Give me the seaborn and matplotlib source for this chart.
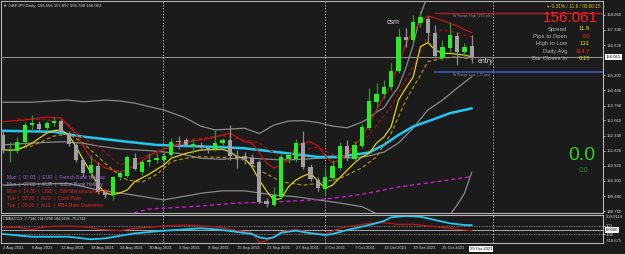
import numpy as np
import pandas as pd
import matplotlib
matplotlib.use("Agg")
import matplotlib.pyplot as plt
import seaborn as sns
from matplotlib.transforms import blended_transform_factory

# ---------------- data ----------------
dates = ["2 Aug", "3 Aug", "4 Aug", "5 Aug", "6 Aug", "9 Aug", "10 Aug", "11 Aug", "12 Aug", "13 Aug",
         "16 Aug", "17 Aug", "18 Aug", "19 Aug", "20 Aug", "23 Aug", "24 Aug", "25 Aug", "26 Aug", "27 Aug",
         "30 Aug", "31 Aug", "1 Sep", "2 Sep", "3 Sep", "6 Sep", "7 Sep", "8 Sep", "9 Sep", "10 Sep",
         "13 Sep", "14 Sep", "15 Sep", "16 Sep", "17 Sep", "20 Sep", "21 Sep", "22 Sep", "23 Sep", "24 Sep",
         "27 Sep", "28 Sep", "29 Sep", "30 Sep", "1 Oct", "4 Oct", "5 Oct", "6 Oct", "7 Oct", "8 Oct",
         "11 Oct", "12 Oct", "13 Oct", "14 Oct", "15 Oct", "18 Oct", "19 Oct", "20 Oct", "21 Oct", "22 Oct",
         "25 Oct", "26 Oct", "27 Oct", "28 Oct", "29 Oct"]
opens = [152.37, 151.60, 151.63, 152.02, 152.86, 152.90, 152.68, 152.94, 153.05, 152.42,
         151.90, 151.19, 150.55, 150.90, 149.69, 149.53, 150.37, 150.45, 151.30, 150.60,
         151.08, 151.19, 151.19, 151.42, 152.08, 152.13, 151.87, 151.90, 151.77, 151.70,
         151.98, 152.13, 151.36, 151.39, 151.28, 151.07, 149.26, 149.06, 149.45, 151.25,
         151.22, 152.00, 150.87, 150.24, 149.82, 150.33, 150.80, 151.85, 151.22, 151.87,
         152.69, 153.95, 154.29, 154.62, 155.40, 157.02, 156.86, 157.65, 157.84, 157.18,
         156.00, 156.47, 157.05, 156.31, 156.556]
highs = [152.55, 152.05, 152.29, 153.00, 153.32, 153.05, 153.05, 153.24, 153.12, 152.55,
         152.00, 151.30, 151.42, 151.10, 149.75, 150.45, 150.65, 151.40, 151.52, 151.20,
         151.50, 151.53, 151.55, 152.21, 152.30, 152.25, 152.18, 152.05, 151.90, 152.61,
         152.25, 152.84, 151.66, 151.55, 151.45, 151.19, 149.40, 149.93, 151.53, 151.50,
         152.17, 152.57, 151.00, 150.40, 150.80, 151.19, 152.05, 152.13, 152.08, 152.90,
         154.58, 154.81, 154.97, 155.76, 157.42, 157.42, 158.05, 158.24, 158.00, 157.57,
         156.86, 157.73, 157.26, 156.74, 157.097]
lows = [151.50, 151.10, 151.50, 151.90, 152.55, 152.55, 152.55, 152.80, 152.45, 151.85,
        151.10, 150.45, 150.35, 149.60, 149.39, 149.30, 150.25, 150.40, 150.70, 150.48,
        150.90, 151.05, 151.05, 151.30, 151.70, 151.80, 151.52, 151.65, 151.50, 151.60,
        151.85, 151.19, 150.80, 151.00, 150.85, 149.15, 148.98, 149.01, 149.40, 151.05,
        151.10, 150.75, 150.20, 149.72, 149.53, 150.20, 150.71, 151.15, 151.10, 151.75,
        152.60, 153.71, 154.10, 154.50, 155.30, 156.55, 156.70, 157.50, 156.71, 156.00,
        155.90, 156.30, 155.68, 156.07, 155.789]
closes = [151.66, 151.68, 152.02, 152.84, 152.92, 152.66, 152.95, 153.03, 152.53, 151.94,
          151.19, 150.56, 150.95, 149.69, 149.53, 150.38, 150.57, 151.31, 150.76, 151.11,
          151.19, 151.28, 151.38, 152.05, 152.02, 151.90, 151.95, 151.82, 151.66, 151.98,
          152.13, 151.38, 151.30, 151.22, 151.00, 149.22, 149.10, 149.53, 151.35, 151.40,
          152.00, 150.84, 150.29, 149.85, 150.40, 150.90, 151.85, 151.27, 151.90, 152.77,
          153.98, 154.31, 154.62, 155.40, 157.02, 156.86, 157.71, 157.96, 157.18, 156.10,
          156.52, 157.10, 156.31, 156.52, 156.061]

# indicator lines (bar index, price)
cyan_idx = [0, 7, 11, 17, 21, 25, 30, 33, 35, 39, 43, 46, 50, 52, 54, 56, 59, 61, 64]
cyan_val = [152.57, 152.52, 152.29, 152.05, 151.90, 151.85, 151.79, 151.74, 151.66, 151.50,
            151.33, 151.34, 151.54, 151.90, 152.37, 152.77, 153.14, 153.40, 153.63]

yel_idx = [0, 2, 4, 6, 7, 8, 9, 10, 11, 12, 13, 14, 15, 16, 17, 18, 20, 21, 22, 23, 25, 27, 30,
           31, 32, 33, 34, 35, 36, 37, 38, 39, 40, 41, 42, 43, 44, 45, 47, 48, 49, 50, 51, 52, 53,
           54, 55, 56, 57, 58, 59, 60, 61, 63, 64]
yel_val = [151.66, 151.66, 151.98, 152.46, 152.58, 152.61, 152.37, 151.82, 151.19, 150.62, 150.00,
           149.63, 149.53, 149.63, 149.77, 150.16, 150.52, 150.74, 150.95, 151.27, 151.50, 151.66,
           151.69, 151.58, 151.34, 151.27, 150.87, 150.24, 149.72, 149.29, 149.37, 149.92, 150.24,
           150.43, 150.56, 150.19, 149.85, 150.00, 150.71, 151.05, 151.33, 151.50, 151.99, 152.27,
           152.76, 154.02, 154.59, 155.11, 156.55, 156.74, 156.39, 156.23, 156.23, 156.15, 156.07]

yeld_idx = [2, 4, 7, 9, 11, 13, 15, 17, 19, 21, 23, 25, 27, 30, 33, 35, 38, 41, 43, 46, 49, 51,
            53, 55, 57, 58, 60, 62, 64]
yeld_val = [151.74, 151.85, 152.32, 152.42, 151.98, 151.34, 150.71, 150.24, 150.14, 150.50, 151.11,
            151.27, 151.34, 151.31, 151.19, 150.71, 150.16, 150.00, 150.08, 150.32, 150.81, 151.34,
            152.45, 154.02, 155.21, 155.84, 156.00, 156.07, 155.96]

red_idx = [0, 3, 6, 8, 10, 12, 14, 16, 18, 20, 22, 24, 26, 28, 30, 31, 32, 33, 34, 35, 36, 37, 38,
           39, 40, 41, 42, 43, 44, 45, 46, 47, 48, 49, 50, 51, 52, 53, 54, 55, 56, 57, 58, 59, 60,
           61, 62, 63, 64]
red_val = [153.00, 153.08, 153.22, 153.17, 152.42, 151.28, 150.81, 150.62, 150.90, 151.38, 151.71,
           151.90, 152.09, 152.20, 152.37, 152.45, 152.27, 152.05, 151.99, 151.52, 151.05, 150.81,
           150.95, 151.19, 151.85, 151.99, 152.05, 151.85, 151.38, 151.05, 151.19, 151.47, 151.90,
           152.23, 152.89, 153.55, 154.17, 154.78, 155.73, 156.67, 157.29, 157.71, 158.00, 157.90,
           157.79, 157.65, 157.53, 157.36, 157.21]

redd_idx = [2, 6, 9, 11, 13, 16, 20, 25, 30, 33, 35, 37, 39, 41, 43, 46, 48, 50, 53, 56, 58, 60, 62, 64]
redd_val = [153.13, 153.10, 152.86, 152.23, 151.83, 150.95, 151.42, 152.13, 152.34, 152.13, 151.99,
            151.52, 151.19, 151.66, 151.80, 151.28, 151.66, 152.37, 153.73, 155.60, 157.04, 157.36,
            157.20, 157.00]

bbu_idx = [0, 4, 7, 9, 11, 14, 16, 18, 20, 22, 25, 27, 29, 31, 33, 35, 37, 39, 41, 43, 45, 47,
           49, 50, 51, 52, 53, 54, 55, 56, 57, 58]
bbu_val = [153.92, 153.92, 153.99, 154.02, 153.94, 154.02, 153.98, 153.88, 153.71, 153.55, 153.17,
           152.79, 152.61, 152.65, 152.69, 152.44, 152.84, 153.03, 153.05, 152.96, 152.79, 152.71,
           152.98, 153.17, 153.46, 153.65, 154.17, 154.65, 155.54, 156.63, 158.05, 159.00]

bbm_idx = [0, 4, 8, 11, 13, 16, 20, 24, 27, 30, 33, 35, 38, 41, 43, 46, 48, 50, 52, 54, 56, 58, 60, 62, 64]
bbm_val = [151.90, 151.99, 152.05, 151.98, 151.85, 151.71, 151.63, 151.50, 151.27, 151.22, 151.31,
           151.25, 151.19, 151.22, 151.27, 151.30, 151.28, 151.38, 151.56, 151.99, 152.70, 153.55,
           154.02, 154.59, 155.13]

bbl_idx = [0, 4, 9, 13, 16, 22, 27, 30, 33, 37, 40, 43, 46, 49, 50, 51, 52, 60, 61, 62, 63, 64]
bbl_val = [150.00, 150.05, 150.08, 149.77, 149.63, 149.30, 149.61, 149.73, 149.73, 149.53, 149.45,
           149.30, 149.15, 148.98, 148.82, 148.63, 148.40, 148.20, 148.59, 149.06, 149.61, 150.62]

mag_idx = [17, 20, 27, 32, 37, 40, 44, 47, 50, 54, 59, 64]
mag_val = [148.62, 148.87, 149.01, 149.15, 149.20, 149.25, 149.34, 149.46, 149.63, 149.91, 150.15, 150.40]

# oscillator pane
cci_idx = [0, 4, 9, 12, 14, 18, 22, 27, 29, 31, 34, 35, 36, 37, 38, 40, 42, 44, 45, 47, 50, 52,
           53, 55, 57, 59, 61, 63, 64]
cci_val = [-93, -156, -156, -216, -193, -77, -16, 40, 16, -23, -93, -170, -202, -170, -63, -16,
           -77, -116, -93, 0, 116, 209, 295, 326, 309, 233, 156, 116, 114]
sig_idx = [0, 2, 4, 6, 9, 12, 13, 16, 18, 20, 22, 25, 27, 29, 31, 34, 35, 36, 37, 38, 40, 42, 44,
           46, 47, 50, 52, 54, 56, 59, 61, 63, 64]
sig_val = [63, 63, 16, 77, 93, 63, 16, -16, 40, 63, 93, 116, 93, 77, 16, -63, -286, -249, -156, -40,
           16, -63, -93, 40, 77, 156, 170, 133, 133, 77, 40, 0, -16]

date_ticks = list(range(0, 64, 4))
date_labels = ["2 Aug 2021", "6 Aug 2021", "12 Aug 2021", "18 Aug 2021", "24 Aug 2021", "30 Aug 2021",
               "3 Sep 2021", "9 Sep 2021", "15 Sep 2021", "21 Sep 2021", "27 Sep 2021", "1 Oct 2021",
               "7 Oct 2021", "13 Oct 2021", "19 Oct 2021", "25 Oct 2021"]
price_ticks = [158.060, 157.340, 156.620, 155.200, 154.480, 153.760, 153.060, 152.340, 151.620,
               150.920, 150.200, 149.480, 148.760]
separators = [21.9, 44.0, 66.9]
range_high, range_low = 158.13, 155.36
last_price = 156.061

events = ["Mon  |  07:01  |  EUR  |  French Bank Holiday",
          "Mon  |  07:03  |  EUR  |  Italian Bank Holiday",
          "Mon  |  14:00  |  USD  |  ISM Manufacturing PMI",
          "Tue  |  03:30  |  AUD  |  Cash Rate",
          "Tue  |  03:30  |  AUD  |  RBA Rate Statement"]
event_colors = ["#9a66d8", "#a496c8", "#e02424", "#e02424", "#e02424"]
info_labels = ["Spread", "Pips to Open", "High to Low", "Daily Avg", "Bar Closes In"]
info_values = ["11.9", "-50", "131", "114.7", "0:15"]
info_colors = ["#f0e020", "#ff2020", "#f0e020", "#ff2020", "#f0e020"]

# ---------------- style ----------------
BG = "#1b1b1b"
sns.set_theme(style="dark", rc={"axes.facecolor": BG, "figure.facecolor": BG,
                                "axes.edgecolor": "#b4b4b4", "text.color": "#e0e0e0",
                                "xtick.color": "#e0e0e0", "ytick.color": "#e0e0e0"})
plt.rcParams["font.family"] = ["Liberation Sans", "DejaVu Sans"]

W, H = 625, 254
fig = plt.figure(figsize=(W / 100, H / 100), dpi=100)
ax = fig.add_axes([1 / W, 1 - 212.7 / H, 602 / W, 211.7 / H])
ax2 = fig.add_axes([1 / W, 1 - 243 / H, 602 / W, 27.7 / H])
for a in (ax, ax2):
    a.set_facecolor(BG)
    for s in a.spines.values():
        s.set_color("#b4b4b4")
        s.set_linewidth(0.8)
    a.grid(False)

x0 = -0.232
x1 = 81.9
ax.set_xlim(x0, x1)
ax.set_ylim(148.694, 158.708)
ax2.set_xlim(x0, x1)
ax2.set_ylim(-302, 342)

idx = np.arange(len(closes))
o = np.array(opens); c = np.array(closes); h = np.array(highs); l = np.array(lows)
bull = c >= o

# separators
for s in separators:
    ax.axvline(s, color="#c8c8c8", lw=0.7, ls=(0, (1.2, 1.8)), zorder=1)
    ax2.axvline(s, color="#c8c8c8", lw=0.7, ls=(0, (1.2, 1.8)), zorder=1)

# indicator lines (main)
def line(a, xi, yv, color, lw, ls="-", z=2):
    df = pd.DataFrame({"x": xi, "y": yv})
    sns.lineplot(data=df, x="x", y="y", ax=a, color=color, lw=lw, linestyle=ls,
                 estimator=None, sort=False, zorder=z, legend=False)

line(ax, bbu_idx, bbu_val, "#8a8a8a", 0.9)
line(ax, bbm_idx, bbm_val, "#8a8a8a", 0.9)
line(ax, bbl_idx, bbl_val, "#8a8a8a", 0.9)
line(ax, mag_idx, mag_val, "#c020c0", 1.0, (0, (3, 2)))
line(ax, cyan_idx, cyan_val, "#22c8f0", 1.8)
line(ax, redd_idx, redd_val, "#a01010", 0.9, (0, (3, 2)))
line(ax, red_idx, red_val, "#c81414", 0.9)
line(ax, yeld_idx, yeld_val, "#b08a18", 0.9, (0, (3, 2)))
line(ax, yel_idx, yel_val, "#e0d020", 0.9)

# candles
wick_col = np.where(bull, "#2a9a2a", "#8c8c8c")
ax.vlines(idx, l, h, colors=wick_col, lw=0.9, zorder=4)
body_h = np.maximum(np.abs(c - o), 0.025)
ax.bar(idx, body_h, bottom=np.minimum(o, c), width=0.58,
       color=np.where(bull, "#22f022", "#a0a0a0"), edgecolor="none", zorder=5)

# price line and ranges
ax.axhline(last_price, color="#8c8c8c", lw=0.8, zorder=3)
ax.hlines(range_high, 58.8, x1, color="#b01830", lw=1.0, zorder=3)
ax.hlines(range_low, 58.8, x1, color="#3858b0", lw=1.2, zorder=3)
ax.text(61.4, range_high - 0.04, "W Range High (255 pts)", fontsize=2.6, color="#8c8c8c", va="top")
ax.text(61.4, range_low - 0.06, "W Range Low (-75 pts)", fontsize=2.6, color="#8c8c8c", va="top")
ax.text(52.4, 157.68, "csm", fontsize=5, color="#d8d8d8", va="center")
ax.text(64.8, 155.86, "entry", fontsize=5, color="#d8d8d8", va="center")

# price axis
ax.yaxis.tick_right()
ax.set_yticks(price_ticks)
ax.set_yticklabels([f"{v:.3f}" for v in price_ticks])
ax.tick_params(axis="y", length=1.5, width=0.6, pad=0.8, labelsize=3.1, colors="#d8d8d8")
ax.set_xticks([])
ax.set_xlabel(""); ax.set_ylabel("")
ax.text(1.0045, last_price, f"{last_price:.3f}", transform=blended_transform_factory(ax.transAxes, ax.transData),
        fontsize=3.1, color="#000000", va="center", ha="left",
        bbox=dict(boxstyle="square,pad=0.2", fc="#ffffff", ec="none"))

# header texts
axf = ax.transAxes
ax.text(0.004, 0.985, "\u25bc GBPJPY,Daily  156.556 157.097 155.789 156.061", transform=axf,
        fontsize=3.1, color="#e0e0e0", va="top", ha="left")
fig.text(545 / W, 1 - 7 / H, "\u25bc", fontsize=3.2, color="#f0a000", va="center", ha="left")
fig.text(549.5 / W, 1 - 7 / H, "-0.31% / 11.9 / 00:00:15", fontsize=3.4, color="#e8c820",
         va="center", ha="left")
fig.text(598 / W, 1 - 18.5 / H, "156.061", fontsize=11, color="#ff2020", ha="right", va="center")
for k, (lab, val, col) in enumerate(zip(info_labels, info_values, info_colors)):
    yy = 1 - (29 + 7.4 * k) / H
    fig.text(567 / W, yy, lab, fontsize=4.2, color="#b8b8b8", ha="right", va="center")
    fig.text(590 / W, yy, val, fontsize=4.2, color=col, ha="right", va="center")
fig.text(581.5 / W, 1 - 155 / H, "0.0", fontsize=14, color="#30d030", ha="center", va="center")
fig.text(584 / W, 1 - 170.5 / H, "0.0", fontsize=5, color="#20a020", ha="center", va="center")

for k, (ev, col) in enumerate(zip(events, event_colors)):
    fig.text(7.3 / W, 1 - (177.7 + 7.0 * k) / H, ev, fontsize=3.5, color=col, ha="left", va="center")

# oscillator pane
ax2.axhline(100, color="#8c8c8c", lw=0.6, ls=(0, (1.5, 1.5)))
ax2.axhline(-100, color="#8c8c8c", lw=0.6, ls=(0, (1.5, 1.5)))
ax2.axhline(0, color="#a8a8a8", lw=0.7)
line(ax2, sig_idx, sig_val, "#c01818", 0.9)
line(ax2, cci_idx, cci_val, "#22c8f0", 1.3)
ax2.text(0.004, 0.93, "CMB&CCI2 -7.7184 114.0298 104.0298 -75.2744", transform=ax2.transAxes,
         fontsize=2.7, color="#e0e0e0", va="top", ha="left")
ax2.yaxis.tick_right()
ax2.set_yticks([100, -100])
ax2.set_yticklabels(["100", "-100"])
ax2.tick_params(axis="y", length=1.5, width=0.6, pad=0.8, labelsize=3.0, colors="#d8d8d8")
tr2 = ax2.transAxes
ax2.text(1.0045, 0.94, "209.9114", transform=tr2, fontsize=3.0, color="#d8d8d8", va="center")
ax2.text(1.0045, 0.06, "-318.675", transform=tr2, fontsize=3.0, color="#d8d8d8", va="center")
ax2.text(1.0045, 0, "0.0000", transform=blended_transform_factory(tr2, ax2.transData), fontsize=3.0,
         color="#000000", va="center", bbox=dict(boxstyle="square,pad=0.2", fc="#ffffff", ec="none"))
ax2.set_xlabel(""); ax2.set_ylabel("")
ax2.set_xticks(date_ticks)
ax2.set_xticklabels(date_labels)
for t in ax2.get_xticklabels():
    t.set_horizontalalignment("left")
ax2.tick_params(axis="x", length=1.5, width=0.6, pad=1.0, labelsize=3.0, colors="#e0e0e0")
ax2.text(63.75, -0.14, "29 Oct 2021", transform=blended_transform_factory(ax2.transData, tr2),
         fontsize=3.0, color="#000000", ha="left", va="top",
         bbox=dict(boxstyle="square,pad=0.2", fc="#ffffff", ec="none"))

fig.savefig("out.png", dpi=100, facecolor=BG)
